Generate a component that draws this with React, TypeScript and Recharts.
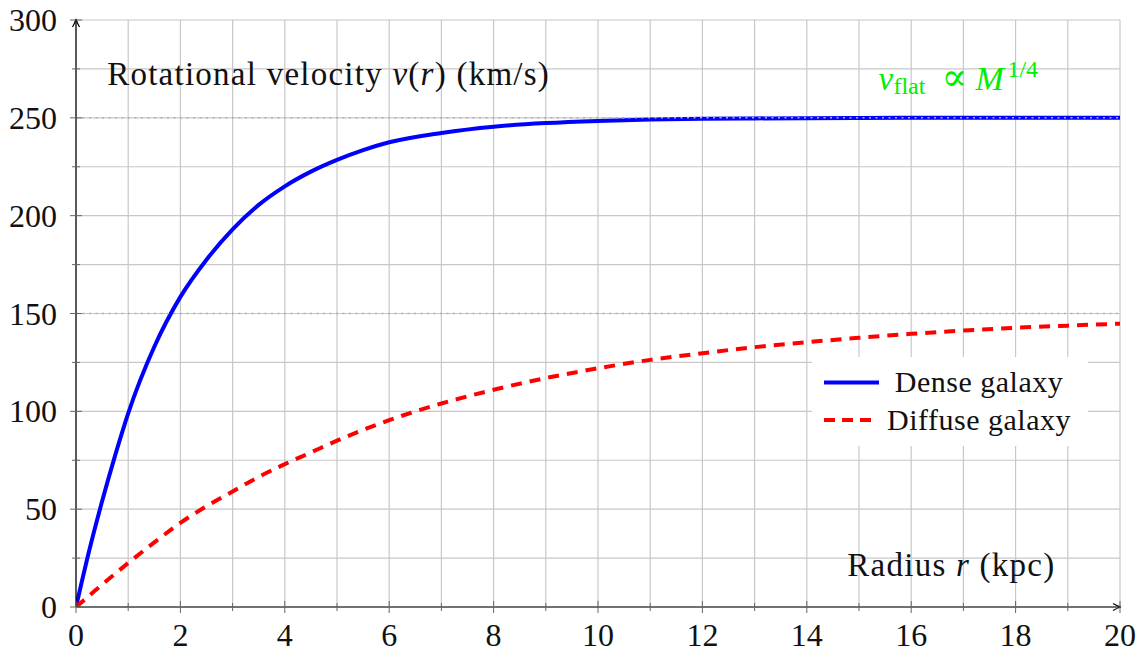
import React from 'react';
import { LineChart, Line, XAxis, YAxis, CartesianGrid, ReferenceLine, ReferenceDot, Legend } from 'recharts';

// ---- data ----
const radius = [0, 0.25, 0.5, 0.75, 1, 1.5, 2, 2.5, 3, 3.5, 4, 4.5, 5, 5.5, 6, 7, 8, 9, 10, 11, 12, 13, 14, 15, 16, 17, 18, 19, 20];
const denseVelocity = [0, 28.5, 54, 77.5, 99, 133, 158.5, 177.5, 193, 205.5, 215, 222.5, 228.5, 233.5, 237.5, 242.3, 245.5, 247.3, 248.4, 249.1, 249.5, 249.7, 249.85, 249.95, 250, 250, 250, 250, 250];
const diffuseVelocity = [0, 5.7, 11.5, 17, 22.5, 33, 43, 51.5, 59, 66.5, 73, 79, 85, 90.5, 95.5, 104, 111, 117, 122, 126.3, 129.7, 132.8, 135.3, 137.6, 139.6, 141.3, 142.7, 143.8, 144.8];

const xTicks = [0, 1, 2, 3, 4, 5, 6, 7, 8, 9, 10, 11, 12, 13, 14, 15, 16, 17, 18, 19, 20];
const xTickLabels = [0, 2, 4, 6, 8, 10, 12, 14, 16, 18, 20];
const yTicks = [0, 25, 50, 75, 100, 125, 150, 175, 200, 225, 250, 275, 300];
const yTickLabels = [0, 50, 100, 150, 200, 250, 300];
const referenceLevels = [250, 150];

const seriesNames = ['Dense galaxy', 'Diffuse galaxy'];

const data = radius.map((r, i) => ({ r, dense: denseVelocity[i], diffuse: diffuseVelocity[i] }));

const FONT = '"Liberation Serif", "DejaVu Serif", "Times New Roman", Times, serif';
const TICK_COLOR = '#666';
const TXT = { fontFamily: FONT };
const LABEL = { fontFamily: FONT, letterSpacing: '1.25px' };

const XTick = (props: any) => {
  const { x, y, payload } = props;
  const v = payload.value;
  const major = xTickLabels.includes(v);
  const len = major ? 6 : 4;
  return (
    <g>
      <line x1={x} x2={x} y1={y - len} y2={y + len} stroke={TICK_COLOR} strokeWidth={1} />
      {major && (
        <text x={x} y={y + 39} textAnchor="middle" style={TXT} fontSize={32} fill="#111">
          {v}
        </text>
      )}
    </g>
  );
};

const YTick = (props: any) => {
  const { x, y, payload } = props;
  const v = payload.value;
  const major = yTickLabels.includes(v);
  const len = major ? 6 : 4;
  return (
    <g>
      <line x1={x - len} x2={x + len} y1={y} y2={y} stroke={TICK_COLOR} strokeWidth={1} />
      {major && (
        <text x={x - 19} y={y} dy={11} textAnchor="end" style={TXT} fontSize={32} fill="#111">
          {v}
        </text>
      )}
    </g>
  );
};

const LegendBox = (props: any) => {
  const payload = props.payload || [];
  return (
    <div style={{ width: 276, height: 89, background: '#fff' }}>
      <svg width={276} height={89} style={{ display: 'block' }}>
        {payload.map((entry: any, i: number) => {
          const ly = i === 0 ? 25.5 : 63;
          const dashed = i === 1;
          return (
            <g key={i}>
              <line
                x1={12}
                x2={dashed ? 61 : 67}
                y1={ly}
                y2={ly}
                stroke={entry.color}
                strokeWidth={4}
                strokeDasharray={dashed ? '11 7' : undefined}
              />
              <text
                x={167}
                y={ly + 9.8}
                textAnchor="middle"
                style={{ fontFamily: FONT, letterSpacing: '0.5px' }}
                fontSize={30}
                fill="#111"
              >
                {entry.value}
              </text>
            </g>
          );
        })}
      </svg>
    </div>
  );
};

export default function App() {
  return (
    <div style={{ position: 'absolute', left: 0, top: 0, width: 1140, height: 652, background: '#fff', fontFamily: FONT }}>
      <LineChart width={1140} height={652} data={data} margin={{ top: 20, right: 20, left: 16, bottom: 5 }}>
        <CartesianGrid stroke="#c8c8c8" strokeWidth={1.2} />
        <XAxis
          dataKey="r"
          type="number"
          domain={[0, 20]}
          ticks={xTicks}
          interval={0}
          height={40}
          tickSize={0}
          tickMargin={0}
          tickLine={false}
          tick={<XTick />}
          axisLine={{ stroke: '#000', strokeWidth: 1.2 }}
          allowDataOverflow
        />
        <YAxis
          type="number"
          domain={[0, 300]}
          ticks={yTicks}
          interval={0}
          width={60}
          tickSize={0}
          tickMargin={0}
          tickLine={false}
          tick={<YTick />}
          axisLine={{ stroke: '#000', strokeWidth: 1.2 }}
          allowDataOverflow
        />
        <Line
          type="monotone"
          dataKey="dense"
          name={seriesNames[0]}
          stroke="#0000ff"
          strokeWidth={4}
          dot={false}
          activeDot={false}
          isAnimationActive={false}
        />
        <Line
          type="monotone"
          dataKey="diffuse"
          name={seriesNames[1]}
          stroke="#ff0000"
          strokeWidth={4}
          strokeDasharray="11 8"
          dot={false}
          activeDot={false}
          isAnimationActive={false}
        />
        {referenceLevels.map((lv) => (
          <ReferenceLine key={lv} y={lv} stroke="#b0b0b0" strokeWidth={1.5} strokeDasharray="2 4.5" />
        ))}
        {/* axis arrow heads */}
        <ReferenceDot
          x={0}
          y={300}
          r={0}
          ifOverflow="visible"
          shape={(p: any) => (
            <path d={`M${p.cx - 3.5},${p.cy + 7} Q${p.cx - 1},${p.cy + 3} ${p.cx},${p.cy - 1} Q${p.cx + 1},${p.cy + 3} ${p.cx + 3.5},${p.cy + 7}`} fill="none" stroke="#000" strokeWidth={1.2} />
          )}
        />
        <ReferenceDot
          x={20}
          y={0}
          r={0}
          ifOverflow="visible"
          shape={(p: any) => (
            <path d={`M${p.cx - 7},${p.cy - 3.5} Q${p.cx - 3},${p.cy - 1} ${p.cx + 1},${p.cy} Q${p.cx - 3},${p.cy + 1} ${p.cx - 7},${p.cy + 3.5}`} fill="none" stroke="#000" strokeWidth={1.2} />
          )}
        />
        {/* annotations */}
        <ReferenceDot
          x={4.84}
          y={267}
          r={0}
          ifOverflow="visible"
          shape={(p: any) => (
            <text x={p.cx} y={p.cy} textAnchor="middle" style={LABEL} fontSize={33} fill="#111">
              Rotational velocity <tspan fontStyle="italic">v</tspan>(<tspan fontStyle="italic">r</tspan>) (km/s)
            </text>
          )}
        />
        <ReferenceDot
          x={16.77}
          y={16}
          r={0}
          ifOverflow="visible"
          shape={(p: any) => (
            <text x={p.cx} y={p.cy} textAnchor="middle" style={LABEL} fontSize={33} fill="#111">
              Radius <tspan fontStyle="italic">r</tspan> (kpc)
            </text>
          )}
        />
        <ReferenceDot
          x={17}
          y={264}
          r={0}
          ifOverflow="visible"
          shape={(p: any) => (
            <text y={p.cy} style={TXT} fontSize={33} fill="#00ee00">
              <tspan x={p.cx - 85} fontStyle="italic">v</tspan>
              <tspan x={p.cx - 70} fontSize={24} dy={4}>flat</tspan>
              <tspan x={p.cx - 22} dy={-4} fontSize={38}>∝</tspan>
              <tspan x={p.cx + 12} fontStyle="italic" fontSize={34}>M</tspan>
              <tspan x={p.cx + 44} fontSize={24} dy={-13}>1/4</tspan>
            </text>
          )}
        />
        <Legend
          layout="horizontal"
          verticalAlign="middle"
          align="center"
          content={<LegendBox />}
          wrapperStyle={{ position: 'absolute', left: 812, top: 357, width: 276, height: 89 }}
        />
      </LineChart>
    </div>
  );
}
